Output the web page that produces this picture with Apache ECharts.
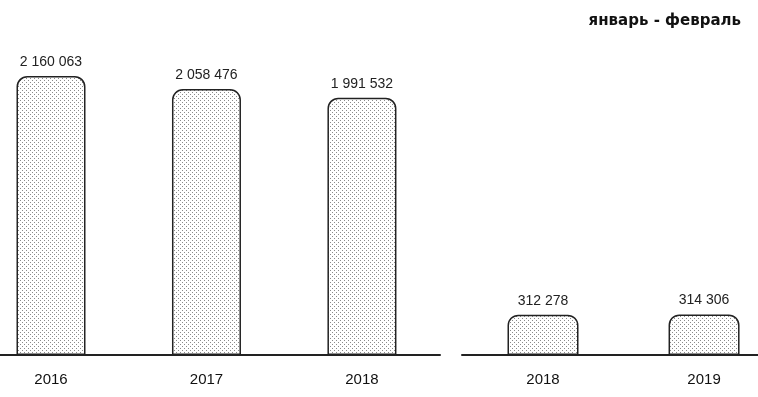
<!DOCTYPE html>
<html><head><meta charset="utf-8">
<script src="https://cdn.jsdelivr.net/npm/echarts@6/dist/echarts.min.js"></script>
<style>html,body{margin:0;padding:0;background:#fff}#c{width:758px;height:397px}</style>
</head><body><div id="c"></div>
<script>
const yearsLeft = ['2016', '2017', '2018'];
const valuesLeft = [2160063, 2058476, 1991532];
const yearsRight = ['2018', '2019'];
const valuesRight = [312278, 314306];
const subtitle = 'январь - февраль';

const tile = document.createElement('canvas');
tile.width = 4; tile.height = 4;
const tc = tile.getContext('2d');
tc.fillStyle = '#fff'; tc.fillRect(0, 0, 4, 4);
tc.fillStyle = '#8a8a8a';
tc.fillRect(0, 0, 1, 1);
tc.fillRect(2, 2, 1, 1);

function fmt(v) { return String(v).replace(/\B(?=(\d{3})+(?!\d))/g, ' '); }
const FONT = 'Liberation Sans, Arial, sans-serif';

const chart = echarts.init(document.getElementById('c'), null, {renderer: 'canvas'});
const ymax = 2500000;
const barStyle = {
  color: {image: tile, repeat: 'repeat'},
  borderColor: '#222',
  borderWidth: 1.5,
  borderRadius: [10, 10, 0, 0]
};
const label = {
  show: true, position: 'top', distance: 7,
  formatter: p => fmt(p.value[1]),
  fontFamily: FONT, fontSize: 14, color: '#222'
};
function xAxis(grid, names, min, max) {
  return {
    gridIndex: grid, type: 'value', min: min, max: max,
    splitLine: {show: false},
    axisLine: {show: true, onZero: false, lineStyle: {color: '#222', width: 2}},
    axisTick: {show: false},
    axisLabel: {
      customValues: names.map((_, i) => i),
      formatter: v => names[Math.round(v)],
      fontFamily: FONT, fontSize: 15, color: '#111', margin: 17
    }
  };
}
chart.setOption({
  animation: false,
  title: {
    text: subtitle, right: 12, top: 9,
    textStyle: {fontFamily: 'DejaVu Sans, sans-serif', fontSize: 15, fontWeight: 'bold', color: '#111'}
  },
  grid: [
    {left: 0, width: 440, top: 32, bottom: 42},
    {left: 462, width: 296, top: 32, bottom: 42}
  ],
  xAxis: [
    xAxis(0, yearsLeft, -0.328, 2.502),
    xAxis(1, yearsRight, -0.503, 1.335)
  ],
  yAxis: [
    {gridIndex: 0, type: 'value', min: 0, max: ymax, show: false, splitLine: {show: false}},
    {gridIndex: 1, type: 'value', min: 0, max: ymax, show: false, splitLine: {show: false}}
  ],
  series: [
    {type: 'bar', xAxisIndex: 0, yAxisIndex: 0, data: valuesLeft.map((v, i) => [i, v]), barWidth: 69, itemStyle: barStyle, label: label},
    {type: 'bar', xAxisIndex: 1, yAxisIndex: 1, data: valuesRight.map((v, i) => [i, v]), barWidth: 71, itemStyle: barStyle, label: label}
  ]
});
</script></body></html>
